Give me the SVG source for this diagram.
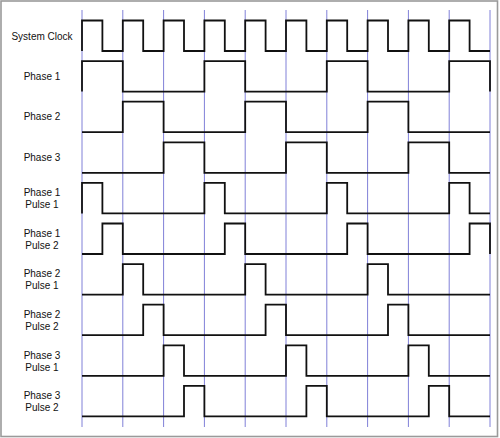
<svg xmlns="http://www.w3.org/2000/svg" width="500" height="438" viewBox="0 0 500 438">
<style>
.frame{fill:#ffffff;stroke:#9a9a9a;stroke-width:1.6}
.grid line{stroke:#8080d8;stroke-width:1}
.sig{fill:none;stroke:#111111;stroke-width:1.8;stroke-linejoin:miter}
.lbl{font-family:"Liberation Sans",Arial,Helvetica,sans-serif;font-size:10px;fill:#111111;text-anchor:middle}
</style>
<rect class="frame" x="1" y="1" width="496.5" height="435.5"/>
<g id="grid" class="grid">
<line x1="82" y1="10" x2="82" y2="427"/>
<line x1="122.8" y1="10" x2="122.8" y2="427"/>
<line x1="163.6" y1="10" x2="163.6" y2="427"/>
<line x1="204.4" y1="10" x2="204.4" y2="427"/>
<line x1="245.2" y1="10" x2="245.2" y2="427"/>
<line x1="286" y1="10" x2="286" y2="427"/>
<line x1="326.8" y1="10" x2="326.8" y2="427"/>
<line x1="367.6" y1="10" x2="367.6" y2="427"/>
<line x1="408.4" y1="10" x2="408.4" y2="427"/>
<line x1="449.2" y1="10" x2="449.2" y2="427"/>
<line x1="490" y1="10" x2="490" y2="427"/>
</g>
<g id="clock">
<text class="lbl" x="42" y="39.5">System Clock</text>
<path class="sig" d="M82,51 v-30.5 h20.4 v30.5 h20.4 v-30.5 h20.4 v30.5 h20.4 v-30.5 h20.4 v30.5 h20.4 v-30.5 h20.4 v30.5 h20.4 v-30.5 h20.4 v30.5 h20.4 v-30.5 h20.4 v30.5 h20.4 v-30.5 h20.4 v30.5 h20.4 v-30.5 h20.4 v30.5 h20.4 v-30.5 h20.4 v30.5 h20.4 v-30.5 h20.4 v30.5 h20.4"/>
</g>
<g id="phase1">
<text class="lbl" x="42" y="79.8">Phase 1</text>
<path class="sig" d="M82,91.6 V61.1 H122.8 V91.6 H204.4 V61.1 H245.2 V91.6 H326.8 V61.1 H367.6 V91.6 H449.2 V61.1 H490 V91.6"/>
</g>
<g id="phase2">
<text class="lbl" x="42" y="120.4">Phase 2</text>
<path class="sig" d="M82,132.2 H122.8 V101.7 H163.6 V132.2 H245.2 V101.7 H286 V132.2 H367.6 V101.7 H408.4 V132.2 H490"/>
</g>
<g id="phase3">
<text class="lbl" x="42" y="161">Phase 3</text>
<path class="sig" d="M82,172.8 H163.6 V142.3 H204.4 V172.8 H286 V142.3 H326.8 V172.8 H408.4 V142.3 H449.2 V172.8 H490"/>
</g>
<g id="p1p1">
<text class="lbl" x="42" y="196.2">Phase 1</text>
<text class="lbl" x="42" y="208.2">Pulse 1</text>
<path class="sig" d="M82,213.4 V182.9 H102.4 V213.4 H204.4 V182.9 H224.8 V213.4 H326.8 V182.9 H347.2 V213.4 H449.2 V182.9 H469.6 V213.4 H490"/>
</g>
<g id="p1p2">
<text class="lbl" x="42" y="236.8">Phase 1</text>
<text class="lbl" x="42" y="248.8">Pulse 2</text>
<path class="sig" d="M82,254 H102.4 V223.5 H122.8 V254 H224.8 V223.5 H245.2 V254 H347.2 V223.5 H367.6 V254 H469.6 V223.5 H490 V254"/>
</g>
<g id="p2p1">
<text class="lbl" x="42" y="277.4">Phase 2</text>
<text class="lbl" x="42" y="289.4">Pulse 1</text>
<path class="sig" d="M82,294.6 H122.8 V264.1 H143.2 V294.6 H245.2 V264.1 H265.6 V294.6 H367.6 V264.1 H388 V294.6 H490"/>
</g>
<g id="p2p2">
<text class="lbl" x="42" y="318">Phase 2</text>
<text class="lbl" x="42" y="330">Pulse 2</text>
<path class="sig" d="M82,335.2 H143.2 V304.7 H163.6 V335.2 H265.6 V304.7 H286 V335.2 H388 V304.7 H408.4 V335.2 H490"/>
</g>
<g id="p3p1">
<text class="lbl" x="42" y="358.6">Phase 3</text>
<text class="lbl" x="42" y="370.6">Pulse 1</text>
<path class="sig" d="M82,375.8 H163.6 V345.3 H184 V375.8 H286 V345.3 H306.4 V375.8 H408.4 V345.3 H428.8 V375.8 H490"/>
</g>
<g id="p3p2">
<text class="lbl" x="42" y="399.2">Phase 3</text>
<text class="lbl" x="42" y="411.2">Pulse 2</text>
<path class="sig" d="M82,416.4 H184 V385.9 H204.4 V416.4 H306.4 V385.9 H326.8 V416.4 H428.8 V385.9 H449.2 V416.4 H490"/>
</g>
</svg>
